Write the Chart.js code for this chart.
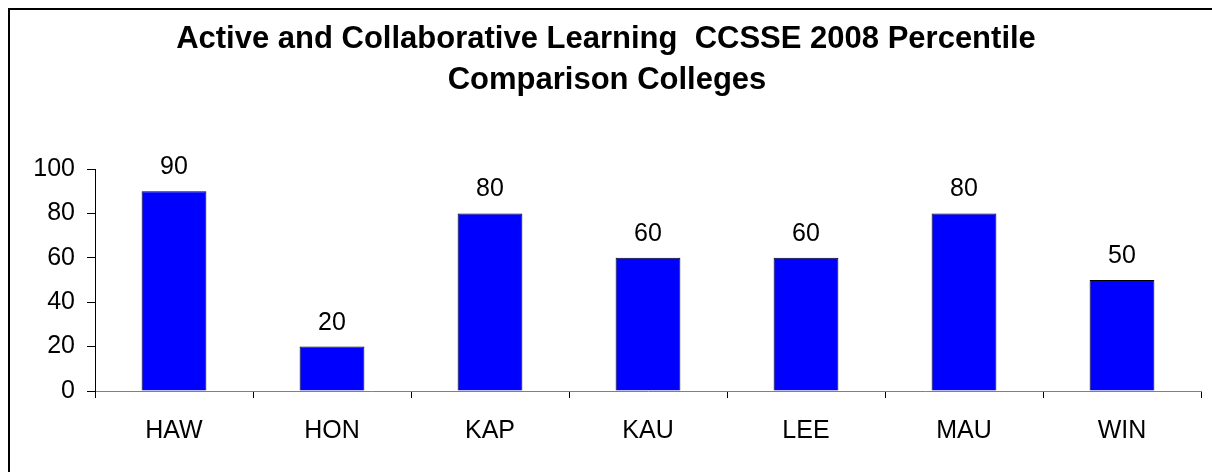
<!DOCTYPE html>
<html>
<head>
<meta charset="utf-8">
<script src="https://cdn.jsdelivr.net/npm/chart.js@4/dist/chart.umd.min.js"></script>
<style>
  html, body { margin: 0; padding: 0; background: #fff; }
  #wrap { width: 1212px; height: 472px; position: relative; }
</style>
</head>
<body>
<div id="wrap"><canvas id="chart" width="1212" height="472"></canvas></div>
<script>
// data
const colleges = ['HAW', 'HON', 'KAP', 'KAU', 'LEE', 'MAU', 'WIN'];
const percentiles = [90, 20, 80, 60, 60, 80, 50];
const yTicks = [0, 20, 40, 60, 80, 100];
const titleLines = ['Active and Collaborative Learning  CCSSE 2008 Percentile', 'Comparison Colleges'];

const FONT = '"Liberation Sans", Arial, sans-serif';

// frame + title
const framePlugin = {
    id: 'frame',
    beforeDraw(chart) {
        const ctx = chart.ctx;
        ctx.save();
        ctx.fillStyle = '#fff';
        ctx.fillRect(0, 0, chart.width, chart.height);
        ctx.fillStyle = '#000';
        ctx.fillRect(8, 8, chart.width, 2);
        ctx.fillRect(8, 8, 2, chart.height);
        ctx.font = 'bold 31px ' + FONT;
        ctx.textAlign = 'center';
        ctx.textBaseline = 'alphabetic';
        ctx.fillText(titleLines[0], 606, 48);
        ctx.fillText(titleLines[1], 607, 89);
        ctx.restore();
    }
};

// value labels above the bars
const valueLabels = {
    id: 'valueLabels',
    afterDatasetsDraw(chart) {
        const ctx = chart.ctx;
        const meta = chart.getDatasetMeta(0);
        ctx.save();
        ctx.font = '25px ' + FONT;
        ctx.fillStyle = '#000';
        ctx.textAlign = 'center';
        ctx.textBaseline = 'alphabetic';
        meta.data.forEach((bar, i) => {
            ctx.fillText(percentiles[i], bar.x, bar.y - 17);
        });
        ctx.restore();
    }
};

new Chart(document.getElementById('chart'), {
    type: 'bar',
    data: {
        labels: colleges,
        datasets: [{
            data: percentiles,
            backgroundColor: '#0000FF',
            borderColor: '#000',
            borderWidth: 1,
            categoryPercentage: 1,
            barPercentage: 0.41
        }]
    },
    options: {
        responsive: false,
        animation: false,
        layout: { padding: { top: 169, right: 11, left: 0, bottom: 0 } },
        plugins: {
            legend: { display: false },
            tooltip: { enabled: false },
            title: { display: false }
        },
        scales: {
            x: {
                grid: { offset: true, drawOnChartArea: false, drawTicks: true, tickLength: 7, color: '#000' },
                border: { display: true, color: '#808080', width: 1 },
                ticks: {
                    color: '#000',
                    padding: 18,
                    font: { family: FONT, size: 25 }
                },
                afterFit(scale) { scale.height = 81; }
            },
            y: {
                min: 0,
                max: 100,
                afterBuildTicks(scale) { scale.ticks = yTicks.map(v => ({ value: v })); },
                grid: { drawOnChartArea: false, drawTicks: true, tickLength: 8, color: '#000' },
                border: { display: true, color: '#000', width: 1 },
                ticks: {
                    color: '#000',
                    padding: 12,
                    font: { family: FONT, size: 25 }
                },
                afterFit(scale) { scale.width = 95; }
            }
        }
    },
    plugins: [framePlugin, valueLabels]
});
</script>
</body>
</html>
